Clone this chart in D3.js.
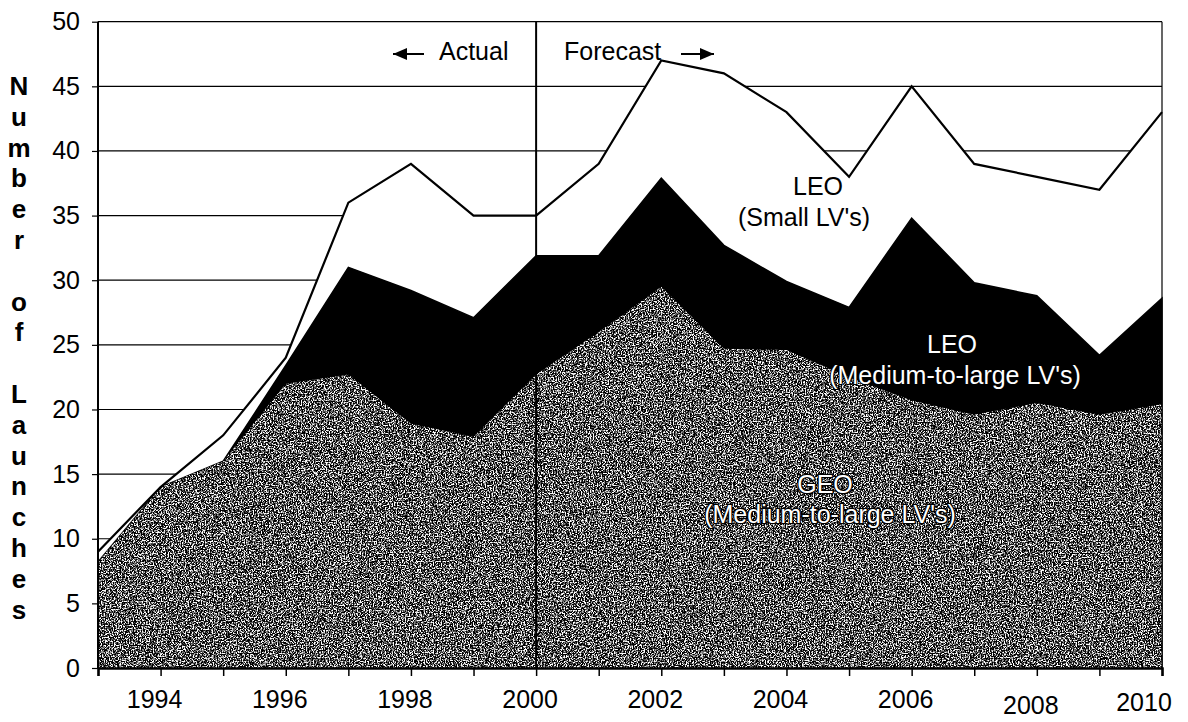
<!DOCTYPE html>
<html>
<head>
<meta charset="utf-8">
<script src="https://cdn.jsdelivr.net/npm/d3@7"></script>
<style>
  html, body { margin: 0; padding: 0; background: #fff; }
  svg { display: block; font-family: "Liberation Sans", Arial, sans-serif; }
</style>
</head>
<body>
<svg id="chart" width="1188" height="722"></svg>
<script>
// ---- data ----
const years = [1993,1994,1995,1996,1997,1998,1999,2000,2001,2002,2003,2004,2005,2006,2007,2008,2009,2010];
// GEO (Medium-to-large LV's)
const geo      = [8.2, 14, 16, 22, 22.7, 18.9, 17.9, 22.7, 26, 29.5, 24.7, 24.6, 22.5, 20.7, 19.6, 20.5, 19.6, 20.4];
// LEO (Medium-to-large LV's) cumulative top
const leoMedTop   = [8.2, 14, 16, 23.4, 31, 29.2, 27.1, 31.9, 31.9, 37.9, 32.7, 29.9, 27.9, 34.8, 29.8, 28.8, 24.2, 28.6];
// Total launches (LEO small on top)
const totalTop    = [9, 14, 18, 24, 36, 39, 35, 35, 39, 47, 46, 43, 38, 45, 39, 38, 37, 43];
const yTicks = [0,5,10,15,20,25,30,35,40,45,50];
const xLabelYears = [1994,1996,1998,2000,2002,2004,2006,2008,2010];
const yTitle = "Number of Launches";

const svg = d3.select("#chart");
const x = d3.scaleLinear().domain([1993, 2010]).range([98, 1162]);
const y = d3.scaleLinear().domain([0, 50]).range([668, 21.7]);

// defs: speckle texture for GEO area
const defs = svg.append("defs");
const f = defs.append("filter").attr("id","speckle").attr("x",0).attr("y",0).attr("width",1).attr("height",1)
  .attr("filterUnits","objectBoundingBox").attr("color-interpolation-filters","sRGB");
f.append("feTurbulence").attr("type","fractalNoise").attr("baseFrequency","0.75").attr("numOctaves",2).attr("seed",4).attr("result","noise");
f.append("feColorMatrix").attr("in","noise").attr("type","matrix")
  .attr("values","1 0 0 0 0  1 0 0 0 0  1 0 0 0 0  0 0 0 0 1").attr("result","gray");
const ct = f.append("feComponentTransfer").attr("in","gray").attr("result","bw");
["feFuncR","feFuncG","feFuncB"].forEach(n => ct.append(n).attr("type","linear").attr("slope",5).attr("intercept",-2.2));
f.append("feComposite").attr("in","bw").attr("in2","SourceGraphic").attr("operator","in");

// gridlines
svg.append("g").selectAll("line").data(yTicks.filter(d => d > 0)).join("line")
  .attr("x1", x(1993)).attr("x2", x(2010))
  .attr("y1", d => y(d)).attr("y2", d => y(d))
  .attr("stroke", "#000").attr("stroke-width", 1.2);

const idx = d3.range(years.length);
// LEO small (white) area, covers gridlines
svg.append("path")
  .attr("d", d3.area().x(i => x(years[i])).y0(y(0)).y1(i => y(totalTop[i]))(idx))
  .attr("fill", "#fff");
// LEO medium (black)
svg.append("path")
  .attr("d", d3.area().x(i => x(years[i])).y0(y(0)).y1(i => y(leoMedTop[i]))(idx))
  .attr("fill", "#000").attr("stroke","#000").attr("stroke-width",1.5);
// GEO (grey speckled)
svg.append("path")
  .attr("d", d3.area().x(i => x(years[i])).y0(y(0)).y1(i => y(geo[i]))(idx))
  .attr("fill", "#777").attr("filter","url(#speckle)");

// total line
svg.append("path")
  .attr("d", d3.line().x(i => x(years[i])).y(i => y(totalTop[i]))(idx))
  .attr("fill","none").attr("stroke","#000").attr("stroke-width",2.2).attr("stroke-linejoin","miter");

// actual/forecast divider
svg.append("line").attr("x1", x(2000)).attr("x2", x(2000)).attr("y1", y(50)).attr("y2", y(0))
  .attr("stroke","#000").attr("stroke-width",2);

// frame: left, right
svg.append("line").attr("x1", x(1993)).attr("x2", x(1993)).attr("y1", y(50)).attr("y2", y(0)+1)
  .attr("stroke","#000").attr("stroke-width",2);
svg.append("line").attr("x1", x(2010)).attr("x2", x(2010)).attr("y1", y(50)).attr("y2", y(0))
  .attr("stroke","#000").attr("stroke-width",1.2);

// y axis
const yAxis = svg.append("g").attr("transform", `translate(${x(1993)},0)`)
  .call(d3.axisLeft(y).tickValues(yTicks).tickSize(6).tickPadding(12).tickFormat(d3.format("d")));
yAxis.select(".domain").remove();
yAxis.selectAll("line").attr("stroke","#000").attr("stroke-width",1.2);
yAxis.selectAll("text").attr("font-size", 25).attr("fill","#000").attr("font-family","Liberation Sans, Arial, sans-serif");

// x axis
const xAxis = svg.append("g").attr("transform", `translate(0,${y(0)})`)
  .call(d3.axisBottom(x).tickValues(years).tickSize(8).tickFormat(""));
xAxis.select(".domain").attr("stroke","#000").attr("stroke-width",2.5);
xAxis.selectAll("line").attr("stroke","#000").attr("stroke-width",1.5);
const labelDy = {2008: 6, 2010: 3};
const labelDx = {2010: -12};
svg.append("g").selectAll("text").data(xLabelYears).join("text")
  .attr("x", d => x(d) - 6 + (labelDx[d] || 0))
  .attr("y", d => 708 + (labelDy[d] || 0))
  .attr("text-anchor","middle").attr("font-size", 25).attr("fill","#000")
  .text(d => d);

// y title: stacked letters
svg.append("g").selectAll("text").data(yTitle.split("")).join("text")
  .attr("x", 19).attr("y", (d, i) => 95 + i * 30.8)
  .attr("text-anchor","middle").attr("font-size", 26).attr("font-weight","bold").attr("fill","#000")
  .text(d => d === " " ? "" : d);

// annotations
function arrow(x1, x2, yy) {
  svg.append("line").attr("x1", x1).attr("x2", x2).attr("y1", yy).attr("y2", yy)
    .attr("stroke","#000").attr("stroke-width",2);
  const dir = Math.sign(x2 - x1);
  svg.append("path")
    .attr("d", `M${x2},${yy} L${x2 - dir*14},${yy-6} L${x2 - dir*14},${yy+6} Z`)
    .attr("fill","#000");
}
arrow(424, 393, 54);
svg.append("text").attr("x", 439).attr("y", 60).attr("font-size", 25).attr("fill","#000").text("Actual");
svg.append("text").attr("x", 564).attr("y", 60).attr("font-size", 25).attr("fill","#000").text("Forecast");
arrow(681, 714, 54);

svg.append("text").attr("x", 818).attr("y", 195).attr("text-anchor","middle").attr("font-size", 25).attr("fill","#000").text("LEO");
svg.append("text").attr("x", 804).attr("y", 226).attr("text-anchor","middle").attr("font-size", 25).attr("fill","#000").text("(Small LV's)");

svg.append("text").attr("x", 952).attr("y", 353).attr("text-anchor","middle").attr("font-size", 25).attr("fill","#fff").text("LEO");
svg.append("text").attr("x", 955).attr("y", 384).attr("text-anchor","middle").attr("font-size", 25).attr("fill","#fff")
  .attr("stroke","#000").attr("stroke-width",2).attr("paint-order","stroke").text("(Medium-to-large LV's)");

svg.append("text").attr("x", 825).attr("y", 493).attr("text-anchor","middle").attr("font-size", 25).attr("fill","#fff")
  .attr("stroke","#000").attr("stroke-width",2.5).attr("paint-order","stroke").text("GEO");
svg.append("text").attr("x", 830).attr("y", 523).attr("text-anchor","middle").attr("font-size", 25).attr("fill","#fff")
  .attr("stroke","#000").attr("stroke-width",2.5).attr("paint-order","stroke").text("(Medium-to-large LV's)");
</script>
</body>
</html>
